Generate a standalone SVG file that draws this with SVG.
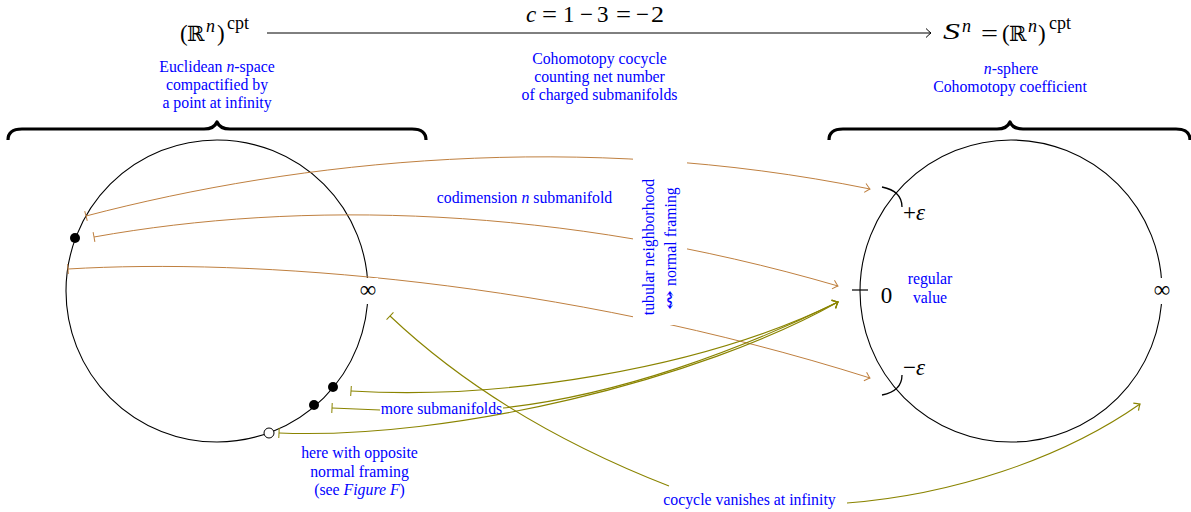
<svg xmlns="http://www.w3.org/2000/svg" width="1191" height="512" viewBox="0 0 1191 512">
<style>
.m{font-family:"Liberation Serif","DejaVu Serif",serif;fill:#000;font-size:23px}
.s{font-size:18px}
.i{font-style:italic}
.bb{font-family:"DejaVu Serif",serif;font-size:21px}
.b{font-family:"Liberation Serif","DejaVu Serif",serif;font-size:15.8px;fill:#0000ff;text-anchor:middle}
.br{fill:none;stroke:#000;stroke-width:3.2;stroke-linejoin:round}
.circ{fill:none;stroke:#000;stroke-width:1.1}
.o{fill:none;stroke:#bf8040;stroke-width:1}
.v{fill:none;stroke:#8a8400;stroke-width:1.1}
</style>
<defs>
<marker id="toO" viewBox="-7 -6 8 12" refX="0" refY="0" markerWidth="8" markerHeight="12" markerUnits="userSpaceOnUse" orient="auto" overflow="visible">
<path d="M-5,-4.5 Q-1.5,-1 0,0 Q-1.5,1 -5,4.5" fill="none" stroke="#bf8040" stroke-width="1"/>
</marker>
<marker id="toV" viewBox="-7 -6 8 12" refX="0" refY="0" markerWidth="8" markerHeight="12" markerUnits="userSpaceOnUse" orient="auto" overflow="visible">
<path d="M-5,-4.5 Q-1.5,-1 0,0 Q-1.5,1 -5,4.5" fill="none" stroke="#8a8400" stroke-width="1.2"/>
</marker>
<marker id="toK" viewBox="-7 -6 8 12" refX="0" refY="0" markerWidth="8" markerHeight="12" markerUnits="userSpaceOnUse" orient="auto" overflow="visible">
<path d="M-5,-4.5 Q-1.5,-1 0,0 Q-1.5,1 -5,4.5" fill="none" stroke="#000" stroke-width="1"/>
</marker>
<marker id="barO" viewBox="-2 -7 4 14" refX="0" refY="0" markerWidth="4" markerHeight="14" markerUnits="userSpaceOnUse" orient="auto" overflow="visible">
<path d="M0,-5V5" stroke="#bf8040" stroke-width="1"/>
</marker>
<marker id="barV" viewBox="-2 -7 4 14" refX="0" refY="0" markerWidth="4" markerHeight="14" markerUnits="userSpaceOnUse" orient="auto" overflow="visible">
<path d="M0,-5V5" stroke="#8a8400" stroke-width="1"/>
</marker>
</defs>
<rect x="0" y="0" width="1191" height="512" fill="#fff"/>

<!-- top row -->
<g id="node-rn">
<text class="m" x="180" y="41">(</text>
<text class="m bb" x="187" y="41">ℝ</text>
<text class="m s i" x="206" y="32">n</text>
<text class="m" x="217" y="41">)</text>
<text class="m s" x="227" y="29">cpt</text>
<text class="b" x="217" y="72">Euclidean <tspan class="i">n</tspan>-space</text>
<text class="b" x="217" y="90">compactified by</text>
<text class="b" x="217" y="108">a point at infinity</text>
</g>
<g id="node-sn">
<text class="m i" x="943" y="39" font-size="25" textLength="17" lengthAdjust="spacingAndGlyphs">S</text>
<text class="m s i" x="962" y="32">n</text>
<text class="m" x="981" y="41" textLength="17" lengthAdjust="spacingAndGlyphs">=</text>
<text class="m" x="1002" y="41">(</text>
<text class="m bb" x="1009" y="41">ℝ</text>
<text class="m s i" x="1028" y="32">n</text>
<text class="m" x="1038" y="41">)</text>
<text class="m s" x="1049" y="29">cpt</text>
<text class="b" x="1011" y="74"><tspan class="i">n</tspan>-sphere</text>
<text class="b" x="1010" y="92">Cohomotopy coefficient</text>
</g>
<g id="node-cocycle">
<text class="m i" x="526" y="22">c</text>
<text class="m" x="542" y="22" textLength="15" lengthAdjust="spacingAndGlyphs">=</text>
<text class="m" x="563" y="22">1</text>
<text class="m" x="580" y="22" textLength="13" lengthAdjust="spacingAndGlyphs">−</text>
<text class="m" x="597" y="22">3</text>
<text class="m" x="616" y="22" textLength="15" lengthAdjust="spacingAndGlyphs">=</text>
<text class="m" x="636" y="22" textLength="13" lengthAdjust="spacingAndGlyphs">−</text>
<text class="m" x="651" y="22" textLength="13" lengthAdjust="spacingAndGlyphs">2</text>
<text class="b" x="599.5" y="64">Cohomotopy cocycle</text>
<text class="b" x="599.5" y="82">counting net number</text>
<text class="b" x="599.5" y="100">of charged submanifolds</text>
</g>

<!-- braces -->
<g id="braces">
<path class="br" d="M8,140 Q8,129 22,129 L204,129 Q214,129 217,122 Q220,129 230,129 L412,129 Q426,129 426,140"/>
<path class="br" d="M829,140 Q829,129 843,129 L997,129 Q1007,129 1010,122 Q1013,129 1023,129 L1176,129 Q1190,129 1190,140"/>
</g>

<!-- circles -->
<g id="node-left-circle">
<circle class="circ" cx="217" cy="291" r="151"/>
</g>
<g id="node-right-circle">
<circle class="circ" cx="1011" cy="291" r="151"/>
<line x1="852" y1="290" x2="868" y2="290" stroke="#000" stroke-width="1.2"/>
<path d="M882,187 Q902,191 902,207" fill="none" stroke="#000" stroke-width="1.3"/>
<path d="M902,375 Q902,391 882,395" fill="none" stroke="#000" stroke-width="1.3"/>
</g>

<!-- connectors -->
<g id="connectors">
<line x1="267" y1="33" x2="931" y2="33" stroke="#000" stroke-width="1" marker-end="url(#toK)"/>
<path class="o" d="M86,216 C300,160 580,130 870,189" marker-start="url(#barO)" marker-end="url(#toO)"/>
<path class="o" d="M94,237 C300,200 560,205 838,286" marker-start="url(#barO)" marker-end="url(#toO)"/>
<path class="o" d="M68,269 C250,258 560,280 870,378" marker-start="url(#barO)" marker-end="url(#toO)"/>
<path class="v" d="M351,391 C500,400 700,370 838,302" marker-start="url(#barV)" marker-end="url(#toV)"/>
<path class="v" d="M332,408 L380,410" marker-start="url(#barV)"/>
<path class="v" d="M503,408 C620,395 740,350 838,302" marker-end="url(#toV)"/>
<path class="v" d="M279,433 C450,440 700,380 838,302" marker-start="url(#barV)" marker-end="url(#toV)"/>
<path class="v" d="M390,316 Q500,420 669,486" marker-start="url(#barV)"/>
<path class="v" d="M847,503 C950,495 1060,460 1140,404" marker-end="url(#toV)"/>
</g>

<!-- labels with background -->
<g id="node-tubular">
<rect x="633" y="150" width="54" height="175" fill="#fff"/>
<text class="b" transform="translate(654,247) rotate(-90)">tubular neighborhood</text>
<text class="b" transform="translate(675,310) rotate(-90)" style="text-anchor:start" font-family="DejaVu Sans" font-size="14" textLength="20" lengthAdjust="spacingAndGlyphs">↭</text>
<text class="b" transform="translate(676,286) rotate(-90)" style="text-anchor:start">normal framing</text>
</g>
<g id="node-codim">
<text class="b" x="524.5" y="203">codimension <tspan class="i">n</tspan> submanifold</text>
</g>
<g id="node-left-inf">
<rect x="358" y="278" width="20" height="26" fill="#fff"/>
<text class="m" x="368" y="297" text-anchor="middle">∞</text>
</g>
<g id="node-right-inf">
<rect x="1152" y="278" width="20" height="26" fill="#fff"/>
<text class="m" x="1162" y="297" text-anchor="middle">∞</text>
</g>
<g id="node-zero">
<text class="m" x="886.5" y="303" text-anchor="middle">0</text>
<text class="b" x="930" y="284">regular</text>
<text class="b" x="930" y="303">value</text>
</g>
<g id="node-peps">
<text class="m" x="903" y="220">+<tspan class="i">ε</tspan></text>
</g>
<g id="node-meps">
<text class="m" x="903" y="375">−<tspan class="i">ε</tspan></text>
</g>
<g id="node-more">
<text class="b" x="441.5" y="414">more submanifolds</text>
</g>
<g id="node-opposite">
<text class="b" x="359.5" y="458">here with opposite</text>
<text class="b" x="359.5" y="477">normal framing</text>
<text class="b" x="359.5" y="495">(see <tspan class="i">Figure F</tspan>)</text>
</g>
<g id="node-vanish">
<text class="b" x="749.5" y="505">cocycle vanishes at infinity</text>
</g>

<!-- points -->
<g id="points">
<circle cx="75" cy="238" r="5" fill="#000"/>
<circle cx="333" cy="387" r="5" fill="#000"/>
<circle cx="314" cy="405" r="5" fill="#000"/>
<circle cx="269" cy="433" r="5" fill="#fff" stroke="#000" stroke-width="1"/>
</g>
</svg>
